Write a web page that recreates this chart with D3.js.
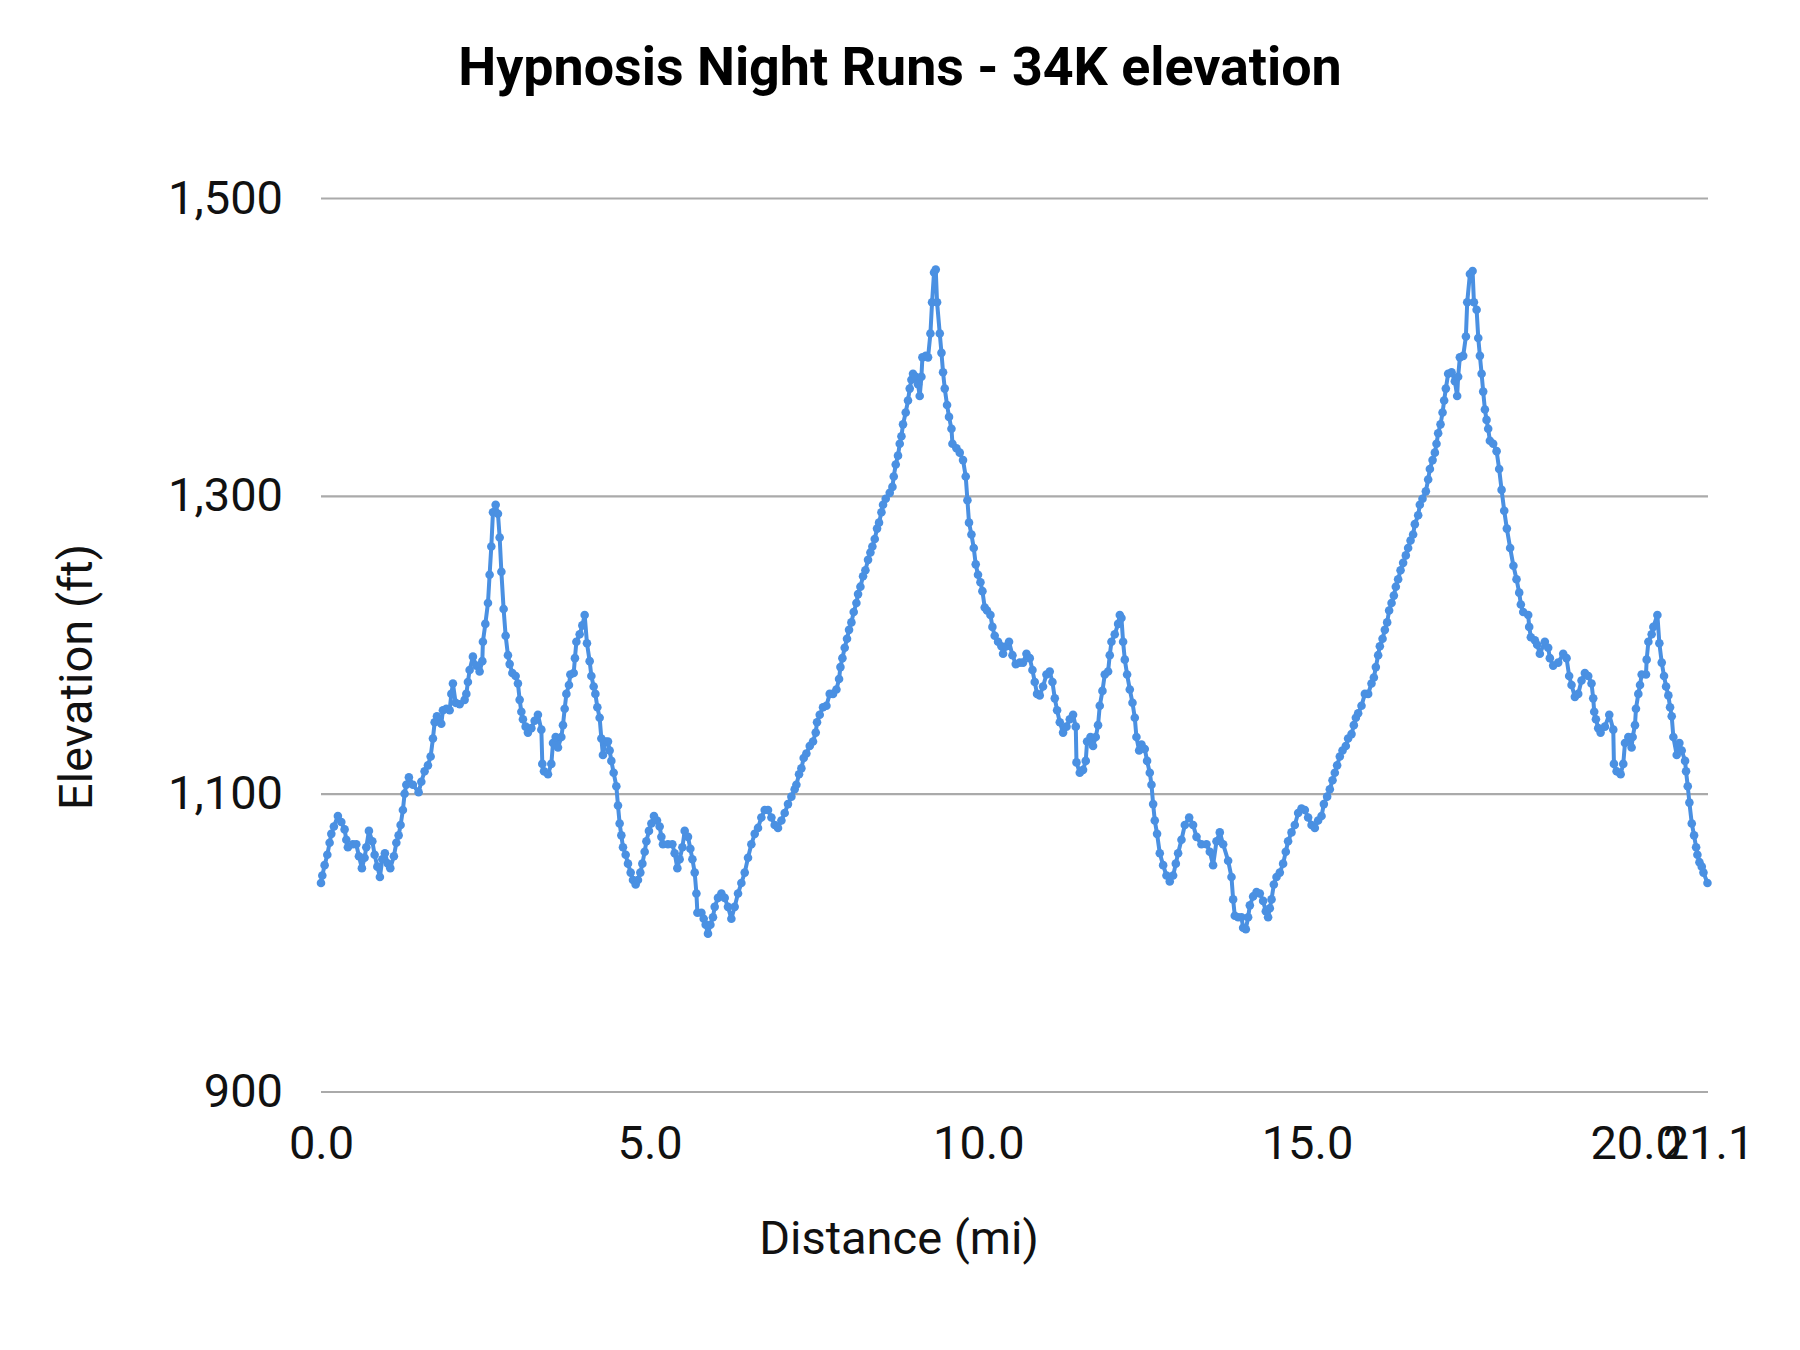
<!DOCTYPE html>
<html>
<head>
<meta charset="utf-8">
<script src="https://cdn.jsdelivr.net/npm/d3@7"></script>
<style>
  body { margin: 0; background: #fff; }
  svg { display: block; font-family: Roboto, "Noto Sans", sans-serif; }
</style>
</head>
<body>
<div id="chart"></div>
<script>
// chart data
const distance = [
  0.000, 0.020, 0.055, 0.096, 0.131, 0.157, 0.196, 0.257, 0.309, 0.359, 0.385, 0.409, 0.485, 0.537, 0.577, 0.622,
  0.663, 0.689, 0.729, 0.781, 0.816, 0.857, 0.896, 0.933, 0.972, 1.018, 1.054, 1.109, 1.146, 1.181, 1.211, 1.246,
  1.272, 1.298, 1.337, 1.398, 1.485, 1.526, 1.576, 1.627, 1.668, 1.703, 1.729, 1.764, 1.830, 1.855, 1.907, 1.957,
  1.983, 2.007, 2.048, 2.109, 2.185, 2.211, 2.235, 2.261, 2.311, 2.363, 2.413, 2.454, 2.463, 2.500, 2.540, 2.565,
  2.591, 2.616, 2.657, 2.692, 2.718, 2.744, 2.778, 2.809, 2.844, 2.870, 2.911, 2.961, 2.996, 3.022, 3.048, 3.072,
  3.113, 3.148, 3.200, 3.250, 3.300, 3.352, 3.367, 3.392, 3.453, 3.504, 3.529, 3.570, 3.605, 3.656, 3.681, 3.707,
  3.733, 3.772, 3.793, 3.844, 3.863, 3.885, 3.935, 3.976, 4.011, 4.046, 4.087, 4.113, 4.148, 4.174, 4.204, 4.239,
  4.265, 4.289, 4.330, 4.366, 4.391, 4.417, 4.452, 4.493, 4.518, 4.543, 4.569, 4.594, 4.635, 4.670, 4.711, 4.746,
  4.787, 4.822, 4.858, 4.889, 4.924, 4.950, 4.989, 5.026, 5.065, 5.111, 5.152, 5.178, 5.202, 5.278, 5.345, 5.380,
  5.421, 5.456, 5.498, 5.533, 5.583, 5.619, 5.650, 5.685, 5.711, 5.726, 5.787, 5.822, 5.852, 5.887, 5.924, 5.963,
  5.989, 6.039, 6.091, 6.141, 6.191, 6.243, 6.293, 6.344, 6.395, 6.446, 6.496,
  6.547, 6.598, 6.648, 6.699, 6.750, 6.800, 6.852, 6.902, 6.952, 7.004, 7.054, 7.104, 7.156, 7.206, 7.232, 7.272,
  7.308, 7.343, 7.384, 7.435, 7.485, 7.526, 7.546, 7.587, 7.637, 7.689, 7.739, 7.789, 7.841, 7.881, 7.902, 7.932,
  7.967, 8.002, 8.033, 8.069, 8.104, 8.145, 8.170, 8.206, 8.246, 8.282, 8.322, 8.358, 8.388, 8.424, 8.459, 8.489,
  8.526, 8.550, 8.591, 8.652, 8.693, 8.713, 8.743, 8.778, 8.804, 8.830, 8.854, 8.895, 8.930, 8.956, 8.982, 9.006,
  9.047, 9.082, 9.108, 9.134, 9.149, 9.200, 9.235, 9.271, 9.296, 9.326, 9.352, 9.372, 9.413, 9.439, 9.463, 9.489,
  9.524, 9.554, 9.591, 9.606, 9.667, 9.717, 9.767, 9.808, 9.834, 9.858, 9.895, 9.930, 9.960, 9.995, 10.032, 10.062,
  10.097, 10.132, 10.184, 10.214, 10.249, 10.300, 10.351, 10.376, 10.427, 10.467, 10.519, 10.569, 10.630, 10.680, 10.732, 10.782,
  10.823, 10.858, 10.893, 10.934, 10.984, 11.036,
  11.086, 11.127, 11.163, 11.198, 11.239, 11.289, 11.341, 11.391, 11.441, 11.482, 11.493, 11.543, 11.593, 11.634, 11.654, 11.706,
  11.745, 11.786, 11.821, 11.847, 11.888, 11.923, 11.974, 11.999, 12.025, 12.075, 12.126, 12.152, 12.177, 12.202, 12.228, 12.263,
  12.304, 12.345, 12.380, 12.405, 12.446, 12.482, 12.532, 12.567, 12.608, 12.634, 12.659, 12.684, 12.719, 12.760, 12.811, 12.862,
  12.912, 12.963, 13.004, 13.039, 13.090, 13.141, 13.207, 13.267, 13.319, 13.394, 13.471, 13.521, 13.571, 13.623, 13.673, 13.724,
  13.800, 13.851, 13.876, 13.901, 13.952, 14.003, 14.028, 14.069, 14.104, 14.130, 14.180, 14.232, 14.282, 14.332, 14.373, 14.408,
  14.434, 14.460, 14.495, 14.536, 14.586, 14.636, 14.677, 14.712, 14.764, 14.814, 14.865, 14.916, 14.967, 15.017, 15.069, 15.119,
  15.169, 15.221, 15.256, 15.306, 15.347, 15.388, 15.423, 15.458, 15.499, 15.540, 15.590, 15.625, 15.677, 15.712, 15.743, 15.778,
  15.829, 15.880, 15.930, 15.981, 16.017, 16.047, 16.082, 16.108, 16.149, 16.184, 16.219, 16.249, 16.286, 16.321, 16.351, 16.386,
  16.423, 16.462, 16.503, 16.538, 16.575, 16.614, 16.640, 16.691, 16.716, 16.757, 16.808, 16.843, 16.869, 16.910, 16.945, 16.970,
  16.995, 17.031, 17.062, 17.086, 17.112, 17.147, 17.199, 17.249, 17.284, 17.299, 17.325, 17.376, 17.417, 17.437, 17.478, 17.519,
  17.539, 17.580, 17.605, 17.630, 17.656, 17.680, 17.706, 17.731, 17.756, 17.782, 17.832, 17.884, 17.923,
  17.960, 18.000, 18.040, 18.090, 18.140,
  18.187, 18.228, 18.253, 18.289, 18.365, 18.380, 18.405, 18.466, 18.501, 18.542, 18.618, 18.669, 18.694, 18.745, 18.821, 18.897,
  18.948, 18.988, 19.024, 19.075, 19.125, 19.176, 19.227, 19.278, 19.328, 19.354, 19.369, 19.395, 19.430, 19.466, 19.532, 19.598,
  19.659, 19.669, 19.710, 19.771, 19.811, 19.837, 19.888, 19.938, 19.954, 19.989, 20.004, 20.040, 20.066, 20.091, 20.157, 20.167,
  20.193, 20.243, 20.269, 20.330, 20.360, 20.396, 20.431, 20.462, 20.497, 20.523, 20.548, 20.573, 20.624, 20.665, 20.700, 20.751,
  20.766, 20.792, 20.817, 20.853, 20.888, 20.919, 20.939, 20.970, 21.005, 21.031, 21.092
];

const elevation = [
  1040, 1045, 1052, 1059, 1067, 1073, 1078, 1085, 1081, 1076, 1069, 1064, 1066, 1066, 1058, 1050,
  1057, 1064, 1075, 1068, 1059, 1051, 1044, 1056, 1060, 1053, 1050, 1058, 1067, 1072, 1079, 1089,
  1100, 1106, 1111, 1106, 1101, 1108, 1115, 1119, 1125, 1137, 1148, 1152, 1147, 1156, 1157, 1156,
  1167, 1174, 1161, 1160, 1163, 1167, 1175, 1183, 1192, 1186, 1182, 1189, 1202, 1214, 1228, 1247,
  1266, 1289, 1294, 1288, 1272, 1249, 1224, 1206, 1193, 1187, 1181, 1179, 1174, 1163, 1155, 1150,
  1145, 1141, 1144, 1149, 1153, 1143, 1120, 1115, 1113, 1120, 1134, 1138, 1131, 1138, 1146, 1157,
  1167, 1173, 1180, 1181, 1191, 1202, 1207, 1213, 1220, 1201, 1189, 1179, 1172, 1167, 1158, 1151,
  1137, 1126, 1135, 1135, 1129, 1122, 1114, 1105, 1092, 1080, 1072, 1064, 1059, 1053, 1047, 1042,
  1039, 1042, 1047, 1053, 1061, 1068, 1075, 1080, 1085, 1082, 1078, 1071, 1066, 1066, 1066, 1060,
  1050, 1056, 1064, 1075, 1071, 1063, 1056, 1047, 1033, 1020, 1020, 1016, 1012, 1006, 1012, 1017,
  1024, 1030, 1033, 1030, 1024, 1016, 1024, 1033, 1040, 1047, 1057,
  1066, 1073, 1077, 1084, 1089, 1089, 1084, 1079, 1077, 1082, 1087, 1093, 1098, 1103, 1106, 1113,
  1117, 1124, 1127, 1132, 1135, 1141, 1148, 1153, 1158, 1159, 1167, 1167, 1170, 1177, 1185, 1191,
  1198, 1204, 1210, 1215, 1222, 1228, 1234, 1239, 1246, 1250, 1257, 1262, 1266, 1271, 1278, 1282,
  1289, 1294, 1298, 1302, 1306, 1313, 1321, 1327, 1335, 1340, 1348, 1356, 1364, 1372, 1378, 1382,
  1380, 1375, 1367, 1380, 1393, 1394, 1393, 1409, 1430, 1450, 1452, 1430, 1409, 1396, 1383, 1372,
  1361, 1353, 1345, 1335, 1332, 1329, 1324, 1313, 1297, 1282, 1274, 1265, 1254, 1247, 1242, 1236,
  1225, 1223, 1220, 1212, 1206, 1202, 1199, 1194, 1199, 1202, 1193, 1187, 1188, 1188, 1194, 1191,
  1183, 1175, 1167, 1166, 1172, 1180,
  1182, 1175, 1164, 1156, 1148, 1141, 1145, 1150, 1153, 1145, 1121, 1114, 1116, 1122, 1135, 1138,
  1132, 1138, 1146, 1159, 1169, 1180, 1182, 1193, 1202, 1207, 1214, 1220, 1218, 1202, 1190, 1180,
  1170, 1161, 1151, 1138, 1129, 1133, 1130, 1122, 1114, 1106, 1093, 1082, 1073, 1060, 1052, 1045,
  1041, 1045, 1053, 1060, 1069, 1079, 1084, 1079, 1071, 1066, 1066, 1061, 1052, 1068, 1074, 1066,
  1055, 1044, 1029, 1018, 1017, 1017, 1010, 1009, 1017, 1025, 1031, 1034, 1033, 1028, 1021, 1017,
  1023, 1029, 1039, 1044, 1047, 1053, 1061, 1068, 1074, 1079, 1087, 1090, 1089, 1084, 1079, 1077,
  1082, 1085, 1093, 1098, 1103, 1109, 1114, 1119, 1125, 1129, 1132, 1137, 1140, 1146, 1151, 1154,
  1159, 1167, 1167, 1174, 1178, 1185, 1193, 1199, 1204, 1210, 1215, 1223, 1228, 1233, 1239, 1244,
  1250, 1255, 1260, 1265, 1270, 1274, 1281, 1287, 1294, 1298, 1303, 1311, 1318, 1324, 1329, 1335,
  1342, 1348, 1356, 1364, 1372, 1382, 1383, 1377, 1367, 1380, 1393, 1394, 1407, 1430, 1449, 1451,
  1430, 1425, 1406, 1394, 1382, 1370, 1358, 1351, 1345, 1337, 1335, 1330, 1318,
  1304, 1290, 1278, 1265, 1253,
  1244, 1235, 1227, 1222, 1220, 1212, 1205, 1203, 1200, 1194, 1202, 1198, 1191, 1186, 1188, 1194,
  1191, 1179, 1173, 1165, 1167, 1176, 1181, 1179, 1174, 1164, 1155, 1150, 1144, 1141, 1145, 1153,
  1143, 1120, 1115, 1113, 1120, 1134, 1138, 1131, 1138, 1146, 1157, 1167, 1173, 1180, 1180, 1190,
  1202, 1207, 1212, 1220, 1201, 1188, 1179, 1172, 1166, 1158, 1152, 1138, 1126, 1134, 1129, 1122,
  1115, 1105, 1094, 1080, 1072, 1064, 1059, 1054, 1051, 1047, 1040
];

const xTicks = [0, 5, 10, 15, 20, 21.1];
const yTicks = [900, 1100, 1300, 1500];

const titleText = "Hypnosis Night Runs - 34K elevation";
const xTitle = "Distance (mi)";
const yTitle = "Elevation (ft)";

const width = 1800;
const height = 1350;
const lineColor = "#4a90e2";
const gridColor = "#aaaaaa";
const labelSize = 47;

const points = distance.map((d, i) => ({ d: d, e: elevation[i] }));

const svg = d3.select("#chart")
  .append("svg")
  .attr("width", width)
  .attr("height", height);

svg.append("rect")
  .attr("width", width)
  .attr("height", height)
  .attr("fill", "#fff");

const x = d3.scaleLinear()
  .domain([0, 21.1])
  .range([321, 1708]);

const y = d3.scaleLinear()
  .domain([900, 1500])
  .range([1091.5, 198]);

// y axis with gridlines
const yAxis = svg.append("g")
  .attr("transform", "translate(321,0)")
  .call(d3.axisLeft(y)
    .tickValues(yTicks)
    .tickSize(-(1708 - 321))
    .tickPadding(38)
    .tickFormat(d3.format(",")));

yAxis.select(".domain").remove();
yAxis.selectAll(".tick line")
  .attr("stroke", gridColor)
  .attr("stroke-width", 2.2);
yAxis.selectAll(".tick text")
  .attr("font-size", labelSize)
  .attr("font-family", "Roboto")
  .attr("fill", "#111");

// x axis, labels only
const xAxis = svg.append("g")
  .attr("transform", "translate(0,1091.5)")
  .call(d3.axisBottom(x)
    .tickValues(xTicks)
    .tickSize(0)
    .tickPadding(34)
    .tickFormat(d3.format(".1f")));

xAxis.select(".domain").remove();
xAxis.selectAll(".tick text")
  .attr("font-size", labelSize)
  .attr("font-family", "Roboto")
  .attr("fill", "#111");

// line + dots
const line = d3.line()
  .x(p => x(p.d))
  .y(p => y(p.e));

svg.append("path")
  .datum(points)
  .attr("d", line)
  .attr("fill", "none")
  .attr("stroke", lineColor)
  .attr("stroke-width", 4)
  .attr("stroke-linejoin", "round");

svg.selectAll(".dot")
  .data(points)
  .enter()
  .append("circle")
  .attr("class", "dot")
  .attr("cx", p => x(p.d))
  .attr("cy", p => y(p.e))
  .attr("r", 4.3)
  .attr("fill", lineColor);

// titles
svg.append("text")
  .attr("x", 900)
  .attr("y", 85)
  .attr("text-anchor", "middle")
  .attr("font-size", 53.8)
  .attr("font-weight", "bold")
  .attr("fill", "#000")
  .text(titleText);

svg.append("text")
  .attr("x", 899)
  .attr("y", 1254)
  .attr("text-anchor", "middle")
  .attr("font-size", labelSize)
  .attr("fill", "#111")
  .text(xTitle);

svg.append("text")
  .attr("transform", "translate(92,677) rotate(-90)")
  .attr("text-anchor", "middle")
  .attr("font-size", labelSize)
  .attr("fill", "#111")
  .text(yTitle);
</script>
</body>
</html>
